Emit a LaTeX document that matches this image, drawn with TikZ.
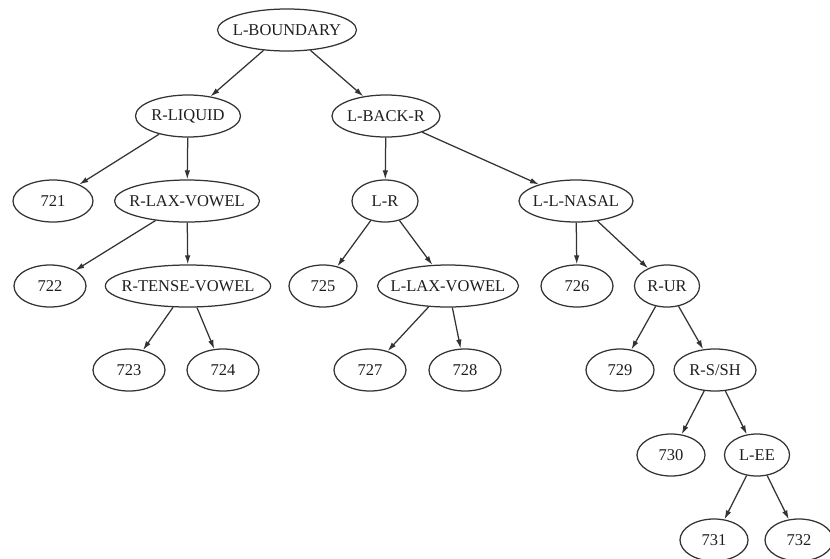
\documentclass[tikz,border=0pt]{standalone}
\usepackage{fontspec}
\setmainfont{Liberation Serif}
\usepackage{xcolor}
\usetikzlibrary{arrows.meta,shapes.geometric}

\definecolor{inkgray}{HTML}{333333}
\definecolor{textgray}{HTML}{1E1E1E}

\begin{document}
\begin{tikzpicture}[
  x=1pt, y=-1pt,
  state/.style={draw=inkgray, ellipse, line width=1.25pt, inner xsep=-8pt, inner ysep=0pt,
    minimum height=42pt, minimum width=72pt, text=textgray,
    font=\fontsize{16.5}{18}\selectfont},
  arrow/.style={-{Latex[length=9pt,width=5.5pt]}, line width=1.25pt, draw=inkgray}
]
\useasboundingbox (0,0) rectangle (830,558);

\node[state, minimum width=139pt] (lboundary) at (287,30) {L-BOUNDARY};
\node[state, minimum width=105pt] (rliquid) at (188,116) {R-LIQUID};
\node[state, minimum width=108pt] (lbackr) at (386,116) {L-BACK-R};
\node[state, minimum width=80pt] (n721) at (53,201) {721};
\node[state, minimum width=145pt] (rlaxvowel) at (187,201) {R-LAX-VOWEL};
\node[state, minimum width=66pt] (lr) at (385,201) {L-R};
\node[state, minimum width=114pt] (llnasal) at (576,201) {L-L-NASAL};
\node[state] (n722) at (50,286) {722};
\node[state, minimum width=162pt] (rtensevowel) at (188,286) {R-TENSE-VOWEL};
\node[state, minimum width=68pt] (n725) at (323,286) {725};
\node[state, minimum width=141pt] (llaxvowel) at (448,286) {L-LAX-VOWEL};
\node[state] (n726) at (577,286) {726};
\node[state, minimum width=65pt] (rur) at (667,286) {R-UR};
\node[state] (n723) at (129,370) {723};
\node[state] (n724) at (223,370) {724};
\node[state] (n727) at (370,370) {727};
\node[state] (n728) at (465,370) {728};
\node[state, minimum width=68pt] (n729) at (620,370) {729};
\node[state, minimum width=82pt] (rssh) at (715,370) {R-S/SH};
\node[state, minimum width=68pt] (n730) at (671,455) {730};
\node[state, minimum width=65pt] (lee) at (757,455) {L-EE};
\node[state, minimum width=68pt] (n731) at (714,540) {731};
\node[state, minimum width=68pt] (n732) at (799,540) {732};

\draw[arrow] (lboundary) -- (rliquid);
\draw[arrow] (lboundary) -- (lbackr);
\draw[arrow] (rliquid) -- (n721);
\draw[arrow] (rliquid) -- (rlaxvowel);
\draw[arrow] (rlaxvowel) -- (n722);
\draw[arrow] (rlaxvowel) -- (rtensevowel);
\draw[arrow] (rtensevowel) -- (n723);
\draw[arrow] (rtensevowel) -- (n724);
\draw[arrow] (lbackr) -- (lr);
\draw[arrow] (lbackr) -- (llnasal);
\draw[arrow] (lr) -- (n725);
\draw[arrow] (lr) -- (llaxvowel);
\draw[arrow] (llaxvowel) -- (n727);
\draw[arrow] (llaxvowel) -- (n728);
\draw[arrow] (llnasal) -- (n726);
\draw[arrow] (llnasal) -- (rur);
\draw[arrow] (rur) -- (n729);
\draw[arrow] (rur) -- (rssh);
\draw[arrow] (rssh) -- (n730);
\draw[arrow] (rssh) -- (lee);
\draw[arrow] (lee) -- (n731);
\draw[arrow] (lee) -- (n732);
\end{tikzpicture}
\end{document}
